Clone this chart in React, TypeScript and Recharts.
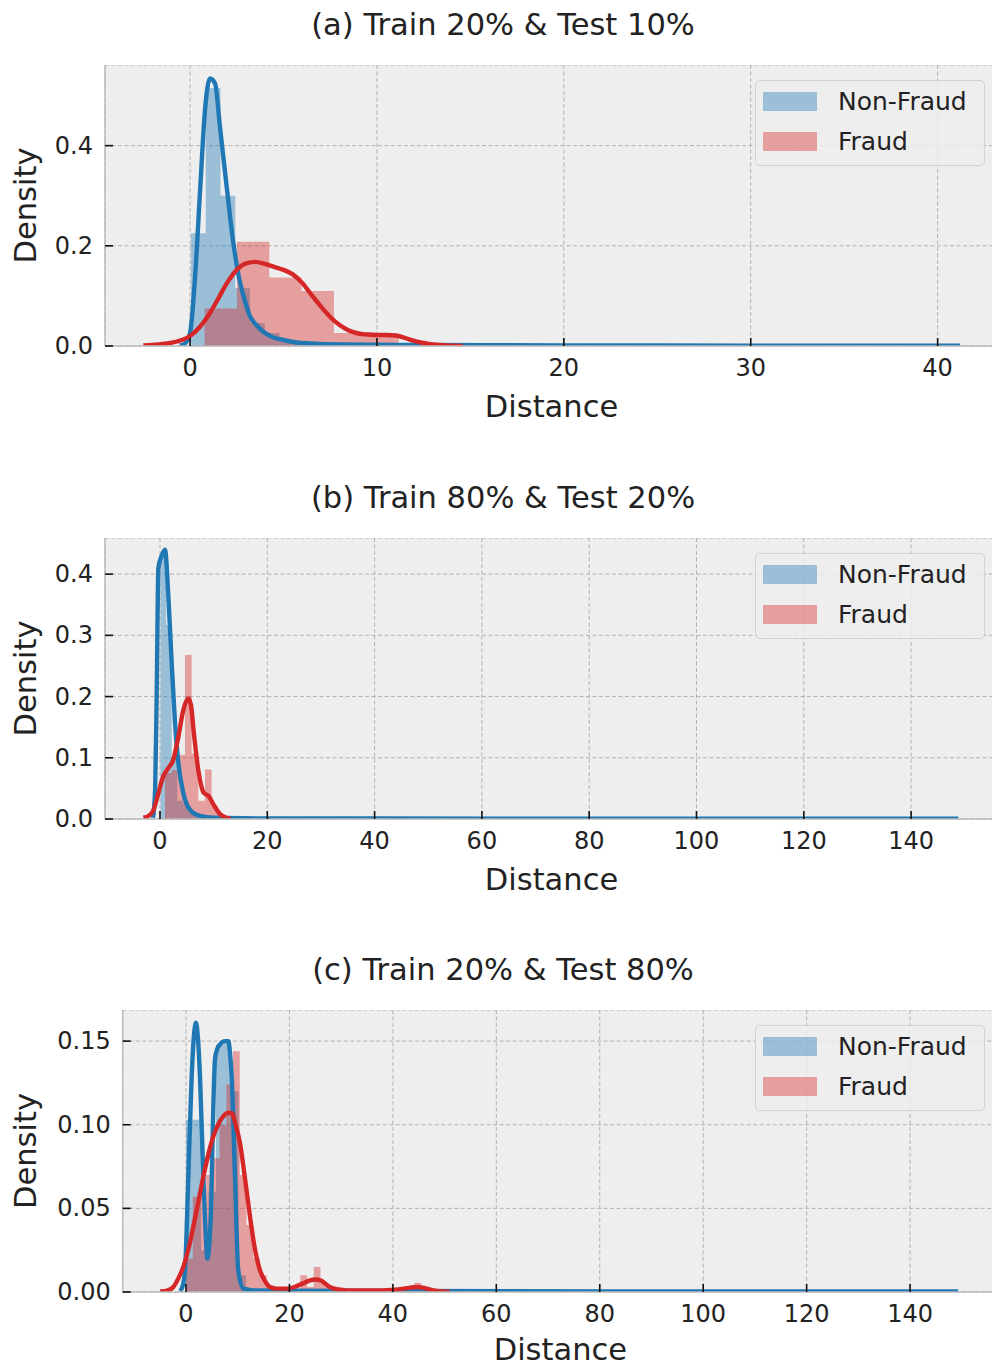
import React from 'react';
import { ComposedChart, Area, Line, XAxis, YAxis, CartesianGrid, Legend } from 'recharts';

const FONT = '"DejaVu Sans", Verdana, sans-serif';
const BLUE = '#1f77b4';
const RED = '#d62728';
const TEXT = '#222222';

// ---------- Panel (a) ----------
const titleA = '(a) Train 20% & Test 10%';
const xTicksA = [0, 10, 20, 30, 40];
const yTicksA = [0, 0.2, 0.4];
const yTickLabelsA = ['0.0', '0.2', '0.4'];
const nonFraudBinStartA = 0.05;
const nonFraudBinWidthA = 0.79;
const nonFraudHistA = [0.225, 0.515, 0.3, 0.116, 0.046, 0.026, 0.012, 0.006, 0.004, 0.003, 0.002, 0.0015, 0.001];
const fraudBinStartA = 0.78;
const fraudBinWidthA = 1.73;
const fraudHistA = [0.075, 0.208, 0.137, 0.11, 0.026, 0.022, 0.004];
const nonFraudKdeA = [
  [-0.55, 0.001], [-0.3, 0.004], [0, 0.026], [0.27, 0.138], [0.53, 0.305], [0.8, 0.471], [1.07, 0.534],
  [1.34, 0.524], [1.6, 0.438], [1.96, 0.318], [2.32, 0.205], [2.6, 0.14], [2.9, 0.095], [3.2, 0.06],
  [3.6, 0.04], [3.9, 0.029], [4.4, 0.018], [5.0, 0.012], [5.7, 0.007], [6.4, 0.005], [8, 0.003],
  [12, 0.002], [16, 0.0015], [20, 0.001], [30, 0.0008], [41.2, 0.0005],
];
const fraudKdeA = [
  [-2.5, 0.001], [-1.5, 0.004], [-0.7, 0.009], [0, 0.02], [0.5, 0.037], [1.0, 0.062], [1.5, 0.094],
  [2.0, 0.127], [2.5, 0.152], [3.0, 0.165], [3.5, 0.168], [4.0, 0.164], [4.5, 0.158], [5.0, 0.152],
  [5.5, 0.143], [6.0, 0.126], [6.5, 0.102], [7.0, 0.079], [7.5, 0.058], [8.0, 0.042], [8.5, 0.031],
  [9.0, 0.025], [9.5, 0.023], [10.0, 0.022], [10.5, 0.022], [11.0, 0.021], [11.5, 0.016], [12.0, 0.01],
  [12.5, 0.006], [13.0, 0.003], [13.5, 0.0015], [14.0, 0.0007], [14.6, 0.0002],
];

// ---------- Panel (b) ----------
const titleB = '(b) Train 80% & Test 20%';
const xTicksB = [0, 20, 40, 60, 80, 100, 120, 140];
const yTicksB = [0, 0.1, 0.2, 0.3, 0.4];
const yTickLabelsB = ['0.0', '0.1', '0.2', '0.3', '0.4'];
const nonFraudBinStartB = 0.1;
const nonFraudBinWidthB = 1.04;
const nonFraudHistB = [0.43, 0.317, 0.1, 0.03, 0.026, 0.012, 0.006, 0.003];
const fraudBinStartB = 0.94;
const fraudBinWidthB = 1.24;
const fraudHistB = [0.075, 0.08, 0.105, 0.268, 0.107, 0.03, 0.081, 0.02];
const nonFraudKdeB = [
  [-1.3, 0.002], [-0.9, 0.05], [-0.62, 0.2], [-0.3, 0.41], [0.31, 0.43], [0.93, 0.44], [1.55, 0.365],
  [2.18, 0.255], [2.8, 0.157], [3.42, 0.092], [4.35, 0.042], [5.6, 0.015], [7.46, 0.005], [10, 0.002],
  [20, 0.001], [40, 0.0008], [80, 0.0005], [148.8, 0.0003],
];
const fraudKdeB = [
  [-3.1, 0.002], [-2, 0.006], [-1.24, 0.014], [-0.3, 0.042], [0.62, 0.07], [1.55, 0.083], [2.49, 0.097],
  [3.42, 0.134], [4.35, 0.178], [5.28, 0.197], [5.8, 0.185], [6.2, 0.15], [7.14, 0.08], [8.07, 0.044],
  [8.6, 0.04], [9.0, 0.038], [9.94, 0.024], [11.2, 0.008], [12.4, 0.002], [13.2, 0.0005],
];

// ---------- Panel (c) ----------
const titleC = '(c) Train 20% & Test 80%';
const xTicksC = [0, 20, 40, 60, 80, 100, 120, 140];
const yTicksC = [0, 0.05, 0.1, 0.15];
const yTickLabelsC = ['0.00', '0.05', '0.10', '0.15'];
const nonFraudBinStartC = 0;
const nonFraudBinWidthC = 1.45;
const nonFraudHistC = [0.103, 0.103, 0.025, 0.06, 0.148, 0.15, 0.12, 0.01];
const fraudBinStartC = 0;
const fraudBinWidthC = 1.3;
const fraudHistC = [
  0.02, 0.057, 0.057, 0.07, 0.08, 0.1, 0.124, 0.144, 0.07, 0.04, 0.02, 0.01, 0.004, 0.002, 0.001, 0.001,
  0, 0.01, 0.003, 0.015, 0.005, 0, 0, 0, 0, 0, 0, 0, 0, 0, 0, 0, 0, 0, 0.0055,
];
const nonFraudKdeC = [
  [-1.16, 0.0005], [-0.6, 0.004], [-0.19, 0.013], [0.45, 0.069], [1.1, 0.129], [1.5, 0.152], [1.93, 0.161],
  [2.3, 0.152], [2.7, 0.129], [3.35, 0.069], [3.8, 0.035], [4.13, 0.02], [4.5, 0.028], [4.84, 0.049],
  [5.2, 0.1], [5.6, 0.139], [6.0, 0.145], [6.58, 0.148], [7.55, 0.15], [8.2, 0.15], [8.5, 0.143],
  [8.83, 0.129], [9.47, 0.069], [10.1, 0.013], [11.1, 0.002], [13, 0.001], [20, 0.0008], [40, 0.0006],
  [80, 0.0004], [149.3, 0.0003],
];
const fraudKdeC = [
  [-5.0, 0.0003], [-3.5, 0.001], [-2.45, 0.003], [-1.5, 0.008], [-0.52, 0.015], [0.5, 0.026], [1.41, 0.039],
  [2.4, 0.054], [3.35, 0.069], [4.3, 0.082], [5.28, 0.093], [6.2, 0.1], [7.2, 0.105], [8.0, 0.107],
  [8.83, 0.107], [9.6, 0.1], [10.44, 0.089], [11.4, 0.068], [12.38, 0.045], [13.3, 0.026], [14.3, 0.013],
  [15.2, 0.007], [16.2, 0.003], [17.5, 0.002], [19.5, 0.002], [21, 0.003], [22.5, 0.005], [24, 0.007],
  [25, 0.0075], [26, 0.007], [27.8, 0.003], [29.5, 0.0015], [31, 0.001], [35, 0.001], [38.2, 0.001],
  [41, 0.0015], [43, 0.0025], [44.6, 0.003], [46, 0.0025], [47.8, 0.001], [49.5, 0.0004], [51, 0.0002],
];

const legendLabels = ['Non-Fraud', 'Fraud'];

type Pt = { x: number; y: number };
const toPts = (pairs: number[][]): Pt[] => pairs.map(([x, y]) => ({ x, y }));
const histSteps = (start: number, width: number, heights: number[]): Pt[] => {
  const pts = heights.map((h, i) => ({ x: start + i * width, y: h }));
  pts.push({ x: start + heights.length * width, y: 0 });
  return pts;
};

const CHART_W = 998;
const PAGE_H = 1367;

type PanelCfg = {
  top: number;
  left: number;
  plotH: number;
  labelOffset: number;
  title: string;
  xDomain: [number, number];
  yDomain: [number, number];
  xTicks: number[];
  yTicks: number[];
  yLabels: string[];
  nfHist: Pt[];
  frHist: Pt[];
  nfKde: Pt[];
  frKde: Pt[];
};

const panels: PanelCfg[] = [
  {
    top: 65, left: 105, plotH: 281, labelOffset: 71, title: titleA,
    xDomain: [-4.55, 43.23], yDomain: [0, 0.561],
    xTicks: xTicksA, yTicks: yTicksA, yLabels: yTickLabelsA,
    nfHist: histSteps(nonFraudBinStartA, nonFraudBinWidthA, nonFraudHistA),
    frHist: histSteps(fraudBinStartA, fraudBinWidthA, fraudHistA),
    nfKde: toPts(nonFraudKdeA), frKde: toPts(fraudKdeA),
  },
  {
    top: 538, left: 105, plotH: 281, labelOffset: 71, title: titleB,
    xDomain: [-10.25, 156.2], yDomain: [0, 0.459],
    xTicks: xTicksB, yTicks: yTicksB, yLabels: yTickLabelsB,
    nfHist: histSteps(nonFraudBinStartB, nonFraudBinWidthB, nonFraudHistB),
    frHist: histSteps(fraudBinStartB, fraudBinWidthB, fraudHistB),
    nfKde: toPts(nonFraudKdeB), frKde: toPts(fraudKdeB),
  },
  {
    top: 1010, left: 122.7, plotH: 282, labelOffset: 67.5, title: titleC,
    xDomain: [-12.24, 157.0], yDomain: [0, 0.1686],
    xTicks: xTicksC, yTicks: yTicksC, yLabels: yTickLabelsC,
    nfHist: histSteps(nonFraudBinStartC, nonFraudBinWidthC, nonFraudHistC),
    frHist: histSteps(fraudBinStartC, fraudBinWidthC, fraudHistC),
    nfKde: toPts(nonFraudKdeC), frKde: toPts(fraudKdeC),
  },
];

const LegendBox = () => (
  <div
    style={{
      position: 'relative', width: 230, height: 86, boxSizing: 'border-box',
      border: '1px solid #d2d2d2', borderRadius: 5, background: 'rgba(238,238,238,0.8)',
      fontFamily: FONT, fontSize: 25, color: TEXT,
    }}
  >
    <div style={{ position: 'absolute', left: 7, top: 11, width: 54, height: 19, background: 'rgba(31,119,180,0.4)' }} />
    <div style={{ position: 'absolute', left: 82, top: 8, lineHeight: '25px', whiteSpace: 'nowrap' }}>{legendLabels[0]}</div>
    <div style={{ position: 'absolute', left: 7, top: 51, width: 54, height: 19, background: 'rgba(214,39,40,0.4)' }} />
    <div style={{ position: 'absolute', left: 82, top: 48, lineHeight: '25px', whiteSpace: 'nowrap' }}>{legendLabels[1]}</div>
  </div>
);

function Panel({ cfg }: { cfg: PanelCfg }) {
  const { top, left, plotH, xTicks, yTicks, yLabels, labelOffset } = cfg;
  const axisH = Math.min(80, PAGE_H - top - plotH);
  const H = plotH + axisH;

  const YTick = (props: any) => {
    const { y, payload } = props;
    const i = yTicks.findIndex((t) => Math.abs(t - payload.value) < 1e-9);
    return (
      <g>
        <line x1={left} x2={left + 8} y1={y} y2={y} stroke="#111" strokeWidth={1.6} />
        <text x={left - 12} y={y} textAnchor="end" dominantBaseline="central" fontSize={24} fill={TEXT} fontFamily={FONT}>
          {i >= 0 ? yLabels[i] : ''}
        </text>
      </g>
    );
  };

  const XTick = (props: any) => {
    const { x, payload } = props;
    return (
      <g>
        <line x1={x} x2={x} y1={plotH} y2={plotH - 8} stroke="#111" strokeWidth={1.6} />
        <text x={x} y={plotH + 30} textAnchor="middle" fontSize={24} fill={TEXT} fontFamily={FONT}>
          {String(payload.value)}
        </text>
      </g>
    );
  };

  const XLabel = () => (
    <text x={(left + CHART_W) / 2} y={plotH + labelOffset} textAnchor="middle" fontSize={30.5} fill={TEXT} fontFamily={FONT}>
      Distance
    </text>
  );

  const YLabel = () => (
    <text
      x={35.5}
      y={plotH / 2}
      textAnchor="middle"
      fontSize={30.5}
      fill={TEXT}
      fontFamily={FONT}
      transform={`rotate(-90, 35.5, ${plotH / 2})`}
    >
      Density
    </text>
  );

  return (
    <>
      <div
        style={{
          position: 'absolute', left: 0, width: 1006, top: top - 29 - 25.8, textAlign: 'center',
          fontFamily: FONT, fontSize: 30.5, lineHeight: '30.5px', color: TEXT, whiteSpace: 'nowrap',
        }}
      >
        {cfg.title}
      </div>
      <div style={{ position: 'absolute', left: 0, top }}>
        <ComposedChart width={CHART_W} height={H} margin={{ top: 0, right: 0, bottom: 0, left: 0 }}>
          <CartesianGrid stroke="#b2b2b2" strokeDasharray="4 2.5" strokeWidth={1} fill="#eeeeee" />
          <XAxis
            type="number"
            dataKey="x"
            domain={cfg.xDomain}
            ticks={xTicks}
            allowDataOverflow
            height={axisH}
            tickSize={0}
            tickMargin={0}
            tick={<XTick />}
            axisLine={{ stroke: '#bcbcbc', strokeWidth: 1.5 }}
            tickLine={false}
            interval={0}
            label={<XLabel />}
          />
          <YAxis
            type="number"
            dataKey="y"
            domain={cfg.yDomain}
            ticks={yTicks}
            allowDataOverflow
            width={left}
            tickSize={0}
            tickMargin={12}
            tick={<YTick />}
            axisLine={{ stroke: '#bcbcbc', strokeWidth: 1.5 }}
            tickLine={false}
            interval={0}
            label={<YLabel />}
          />
          <Area
            data={cfg.nfHist}
            dataKey="y"
            type="stepAfter"
            stroke="none"
            fill={BLUE}
            fillOpacity={0.4}
            isAnimationActive={false}
            dot={false}
            activeDot={false}
          />
          <Area
            data={cfg.frHist}
            dataKey="y"
            type="stepAfter"
            stroke="none"
            fill={RED}
            fillOpacity={0.4}
            isAnimationActive={false}
            dot={false}
            activeDot={false}
          />
          <Line
            data={cfg.nfKde}
            dataKey="y"
            type="monotone"
            stroke={BLUE}
            strokeWidth={4.4}
            dot={false}
            activeDot={false}
            isAnimationActive={false}
          />
          <Line
            data={cfg.frKde}
            dataKey="y"
            type="monotone"
            stroke={RED}
            strokeWidth={4.4}
            dot={false}
            activeDot={false}
            isAnimationActive={false}
          />
          <Legend
            layout="horizontal"
            verticalAlign="middle"
            align="center"
            content={<LegendBox />}
            wrapperStyle={{ position: 'absolute', left: 755, top: 15, width: 230, height: 86, margin: 0 }}
          />
        </ComposedChart>
      </div>
    </>
  );
}

export default function App() {
  return (
    <div
      style={{
        position: 'absolute', left: 0, top: 0, width: 992, height: PAGE_H, overflow: 'hidden',
        background: '#ffffff', fontFamily: FONT,
      }}
    >
      {panels.map((p, i) => (
        <Panel key={i} cfg={p} />
      ))}
    </div>
  );
}
